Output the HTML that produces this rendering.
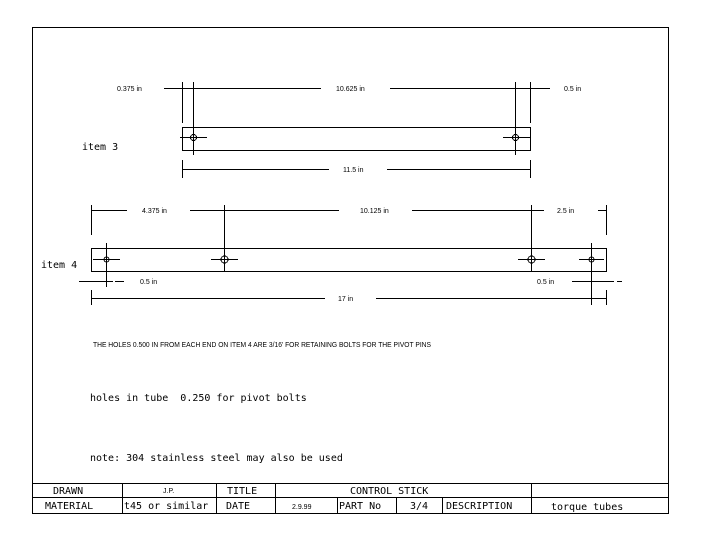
<!DOCTYPE html>
<html><head><meta charset="utf-8"><style>
body{margin:0;background:#fff;}
svg{display:block;}
text{font-family:"DejaVu Sans Mono","Liberation Mono",monospace;fill:#000;stroke:none;white-space:pre;}
.s{font-size:7px;font-family:"Liberation Sans Narrow","Liberation Sans",sans-serif;}
.m{font-size:10px;}
.t{font-size:10px;}
</style></head><body>
<svg width="701" height="542" viewBox="0 0 701 542" stroke="#000" stroke-width="1" fill="none" shape-rendering="crispEdges">
<rect x="32.5" y="27.5" width="636" height="486"/>
<!-- item 3 -->
<rect x="182.5" y="127.5" width="348" height="23"/>
<line x1="164" y1="88.5" x2="321" y2="88.5"/><line x1="390" y1="88.5" x2="550" y2="88.5"/>
<line x1="182.5" y1="82" x2="182.5" y2="123"/><line x1="193.5" y1="82" x2="193.5" y2="155"/>
<line x1="515.5" y1="82" x2="515.5" y2="155"/><line x1="530.5" y1="82" x2="530.5" y2="123"/>
<circle cx="193.5" cy="137.5" r="3"/><line x1="180" y1="137.5" x2="207" y2="137.5"/>
<circle cx="515.5" cy="137.5" r="3"/><line x1="503" y1="137.5" x2="530" y2="137.5"/>
<line x1="182.5" y1="160" x2="182.5" y2="178"/><line x1="530.5" y1="160" x2="530.5" y2="178"/>
<line x1="182" y1="169.5" x2="329" y2="169.5"/><line x1="387" y1="169.5" x2="530" y2="169.5"/>
<text class="s" x="117" y="91">0.375 in</text>
<text class="s" x="336" y="91">10.625 in</text>
<text class="s" x="564" y="91">0.5 in</text>
<text class="s" x="343" y="172">11.5 in</text>
<text class="m" x="82" y="150">item 3</text>
<!-- item 4 -->
<rect x="91.5" y="248.5" width="515" height="23"/>
<line x1="91" y1="210.5" x2="127" y2="210.5"/><line x1="190" y1="210.5" x2="339" y2="210.5"/>
<line x1="412" y1="210.5" x2="544" y2="210.5"/><line x1="598" y1="210.5" x2="606" y2="210.5"/>
<line x1="91.5" y1="205" x2="91.5" y2="235"/><line x1="606.5" y1="205" x2="606.5" y2="235"/>
<line x1="224.5" y1="205" x2="224.5" y2="272"/><line x1="531.5" y1="205" x2="531.5" y2="272"/>
<line x1="106.5" y1="243" x2="106.5" y2="287"/><line x1="591.5" y1="243" x2="591.5" y2="305"/>
<circle cx="106.5" cy="259.5" r="2.5"/><line x1="93" y1="259.5" x2="120" y2="259.5"/>
<circle cx="224.5" cy="259.5" r="3.5"/><line x1="211" y1="259.5" x2="238" y2="259.5"/>
<circle cx="531.5" cy="259.5" r="3.5"/><line x1="518" y1="259.5" x2="545" y2="259.5"/>
<circle cx="591.5" cy="259.5" r="2.5"/><line x1="579" y1="259.5" x2="604" y2="259.5"/>
<line x1="79" y1="281.5" x2="113" y2="281.5"/><line x1="115" y1="281.5" x2="124" y2="281.5"/>
<line x1="572" y1="281.5" x2="614" y2="281.5"/><line x1="617" y1="281.5" x2="622" y2="281.5"/>
<line x1="91.5" y1="290" x2="91.5" y2="305"/><line x1="606.5" y1="290" x2="606.5" y2="305"/>
<line x1="91" y1="298.5" x2="325" y2="298.5"/><line x1="376" y1="298.5" x2="606" y2="298.5"/>
<text class="s" x="142" y="213">4.375 in</text>
<text class="s" x="360" y="213">10.125 in</text>
<text class="s" x="557" y="213">2.5 in</text>
<text class="s" x="140" y="284">0.5 in</text>
<text class="s" x="537" y="284">0.5 in</text>
<text class="s" x="338" y="301">17 in</text>
<text class="m" x="41" y="268">item 4</text>
<text class="s" x="93" y="347" textLength="338" lengthAdjust="spacingAndGlyphs">THE HOLES 0.500 IN FROM EACH END ON ITEM 4 ARE 3/16' FOR RETAINING BOLTS FOR THE PIVOT PINS</text>
<text class="m" x="90" y="401">holes in tube  0.250 for pivot bolts</text>
<text class="m" x="90" y="461">note: 304 stainless steel may also be used</text>
<!-- title block -->
<line x1="32" y1="483.5" x2="668" y2="483.5"/><line x1="32" y1="497.5" x2="668" y2="497.5"/>
<line x1="122.5" y1="483" x2="122.5" y2="513"/><line x1="216.5" y1="483" x2="216.5" y2="513"/>
<line x1="275.5" y1="483" x2="275.5" y2="513"/><line x1="531.5" y1="483" x2="531.5" y2="513"/>
<line x1="337.5" y1="497" x2="337.5" y2="513"/><line x1="396.5" y1="497" x2="396.5" y2="513"/>
<line x1="442.5" y1="497" x2="442.5" y2="513"/>
<text class="t" x="53" y="494">DRAWN</text>
<text class="s" x="163" y="493">J.P.</text>
<text class="t" x="227" y="494">TITLE</text>
<text class="t" x="350" y="494">CONTROL STICK</text>
<text class="t" x="45" y="509">MATERIAL</text>
<text class="t" x="124" y="509">t45 or similar</text>
<text class="t" x="226" y="509">DATE</text>
<text class="s" x="292" y="509">2.9.99</text>
<text class="t" x="339" y="509">PART No</text>
<text class="t" x="410" y="509">3/4</text>
<text class="t" x="446" y="509">DESCRIPTION</text>
<text class="t" x="551" y="510">torque tubes</text>
</svg>
</body></html>
